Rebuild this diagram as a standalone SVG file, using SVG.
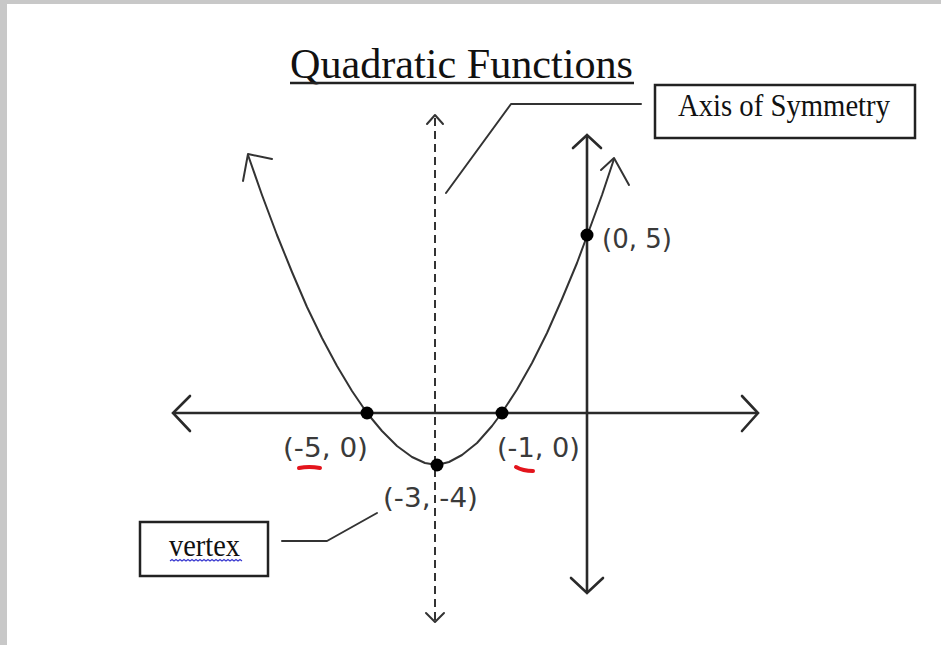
<svg xmlns="http://www.w3.org/2000/svg" width="941" height="645" viewBox="0 0 941 645">
<style>
.ser{font-family:"Liberation Serif","Times New Roman",serif;fill:#111}
.lab{font-family:"DejaVu Sans",Verdana,sans-serif;font-size:26px;fill:#3a3a3a}
.ln{fill:none;stroke:#333;stroke-width:2;stroke-linecap:round;stroke-linejoin:round}
.ax{fill:none;stroke:#2a2a2a;stroke-width:2.6;stroke-linecap:round;stroke-linejoin:miter}
.box{fill:#fff;stroke:#222;stroke-width:2.5}
.dot{fill:#000}
.red{fill:none;stroke:#e3141c;stroke-width:4;stroke-linecap:round}
</style>
<rect x="0" y="0" width="941" height="645" fill="#c8c8c8"/>
<rect x="7" y="4" width="934" height="641" fill="#fff"/>

<g id="title">
<text class="ser" x="290" y="78" font-size="43" textLength="343" lengthAdjust="spacingAndGlyphs">Quadratic Functions</text>
<line x1="290" y1="83" x2="634" y2="83" stroke="#222" stroke-width="2.5"/>
</g>

<g id="x-axis">
<line class="ax" x1="174" y1="413" x2="757" y2="413" stroke="#4a4a4a" stroke-width="3"/>
<polyline class="ax" points="190,396 173,413 190,431"/>
<polyline class="ax" points="742,396 758,413 742,431"/>
</g>

<g id="y-axis">
<line class="ax" x1="587" y1="136" x2="587" y2="592"/>
<polyline class="ax" points="573,148 587,135 601,148"/>
<polyline class="ax" points="571,578 587,593 603,578"/>
</g>

<g id="axis-of-symmetry-line">
<line x1="435" y1="118" x2="435" y2="620" stroke="#333" stroke-width="2" stroke-dasharray="8 5"/>
<polyline class="ln" points="427,124 435,115 443,124"/>
<polyline class="ln" points="426,613 435,622 444,613"/>
</g>

<g id="parabola">
<polyline class="ln" stroke="#444" points="248,155 262,195 277,235 292,272 307,307 322,338 337,366 352,391 367,413 382,431 397,446 412,457 425,463 437,465 449,462 462,455 477,443 492,426 501.7,413 517,389.5 532,363 547,333 562,299 577,263 587,236 602,195 614,159"/>
<polyline class="ln" stroke="#444" points="243,181 248,154 272,159"/>
<polyline class="ln" stroke="#444" points="601,170 614,158 629,185"/>
</g>

<g id="point-neg5">
<circle class="dot" cx="367" cy="413" r="6.5"/>
<text class="lab" x="283" y="457" textLength="85" lengthAdjust="spacingAndGlyphs">(-5, 0)</text>
<path class="red" d="M299,468 Q309,466 320,468"/>
</g>

<g id="point-neg1">
<circle class="dot" cx="502" cy="413" r="6.5"/>
<text class="lab" x="497" y="457" textLength="83" lengthAdjust="spacingAndGlyphs">(-1, 0)</text>
<path class="red" d="M516,467 Q523,471 533,471"/>
</g>

<g id="point-vertex">
<circle class="dot" cx="437" cy="465" r="6.5"/>
<text class="lab" x="383" y="507" textLength="95" lengthAdjust="spacingAndGlyphs">(-3, -4)</text>
</g>

<g id="point-yint">
<circle class="dot" cx="587" cy="235" r="6.5"/>
<text class="lab" x="602" y="248" textLength="70" lengthAdjust="spacingAndGlyphs">(0, 5)</text>
</g>

<g id="axis-label">
<rect class="box" x="655" y="85" width="260" height="53"/>
<text class="ser" x="678" y="116" font-size="31" textLength="212" lengthAdjust="spacingAndGlyphs">Axis of Symmetry</text>
</g>

<g id="vertex-label">
<rect class="box" x="140" y="522" width="128" height="54"/>
<text class="ser" x="169" y="556" font-size="32" textLength="71" lengthAdjust="spacingAndGlyphs">vertex</text>
<path d="M170,561 l2,-1.5 l2,1.5 l2,-1.5 l2,1.5 l2,-1.5 l2,1.5 l2,-1.5 l2,1.5 l2,-1.5 l2,1.5 l2,-1.5 l2,1.5 l2,-1.5 l2,1.5 l2,-1.5 l2,1.5 l2,-1.5 l2,1.5 l2,-1.5 l2,1.5 l2,-1.5 l2,1.5 l2,-1.5 l2,1.5 l2,-1.5 l2,1.5 l2,-1.5 l2,1.5 l2,-1.5 l2,1.5 l2,-1.5 l2,1.5 l2,-1.5 l2,1.5 l2,-1.5 l2,1.5" fill="none" stroke="#3b3bd0" stroke-width="1.2"/>
</g>

<g id="connectors">
<polyline class="ln" points="641,104 511,104 446,193"/>
<polyline class="ln" points="282,541 327,541 377,513"/>
</g>
</svg>
